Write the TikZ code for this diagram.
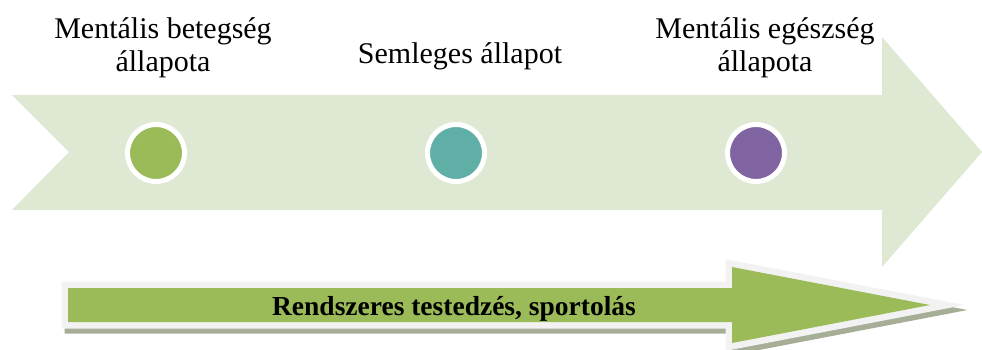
\documentclass[tikz,border=0pt]{standalone}
\usepackage{fontspec}
\setmainfont{Liberation Serif}
\definecolor{bgarrow}{HTML}{DFE8D3}
\definecolor{cgreen}{HTML}{9BBB59}
\definecolor{cteal}{HTML}{60AFA6}
\definecolor{cpurple}{HTML}{8064A2}
\definecolor{bordergray}{HTML}{F2F2F2}
\definecolor{shadowc}{HTML}{A6AE98}
\tikzset{
  toplabel/.style={anchor=north, align=center, inner sep=0pt, font=\fontsize{30}{33}\selectfont},
  ringdot/.style={circle, draw=white, line width=5pt, minimum size=57pt, inner sep=0pt},
  arrowlabel/.style={anchor=base, inner sep=0pt, font=\fontsize{27.5}{30}\selectfont\bfseries}
}
\begin{document}
\begin{tikzpicture}[x=1pt,y=-1pt]
\useasboundingbox (0,0) rectangle (982,349);
% big background arrow
\fill[bgarrow] (12,95) -- (882,95) -- (882,37) -- (982,152) -- (882,267) -- (882,210) -- (12,210) -- (69,152) -- cycle;
% circles
\node[ringdot, fill=cgreen] (c1) at (156,153) {};
\node[ringdot, fill=cteal] (c2) at (456,153) {};
\node[ringdot, fill=cpurple] (c3) at (756,153) {};
% labels
\node[toplabel] (t1) at (163,17.5) {Mentális betegség\\állapota};
\node[toplabel] (t2) at (460,42.5) {Semleges állapot};
\node[toplabel] (t3) at (765,17.5) {Mentális egészség\\állapota};
% bottom arrow: shadow, border, fill
\begin{scope}[shift={(3,5)}]
\path[fill=shadowc, draw=shadowc, line width=13pt, miter limit=20]
  (68,288) -- (732,288) -- (732,267) -- (930,305) -- (732,343) -- (732,322) -- (68,322) -- cycle;
\end{scope}
\path[fill=bordergray, draw=bordergray, line width=13pt, miter limit=20]
  (68,288) -- (732,288) -- (732,267) -- (930,305) -- (732,343) -- (732,322) -- (68,322) -- cycle;
\fill[cgreen]
  (68,288) -- (732,288) -- (732,267) -- (930,305) -- (732,343) -- (732,322) -- (68,322) -- cycle;
\node[arrowlabel] (b) at (454,315) {Rendszeres testedzés, sportolás};
\end{tikzpicture}
\end{document}
